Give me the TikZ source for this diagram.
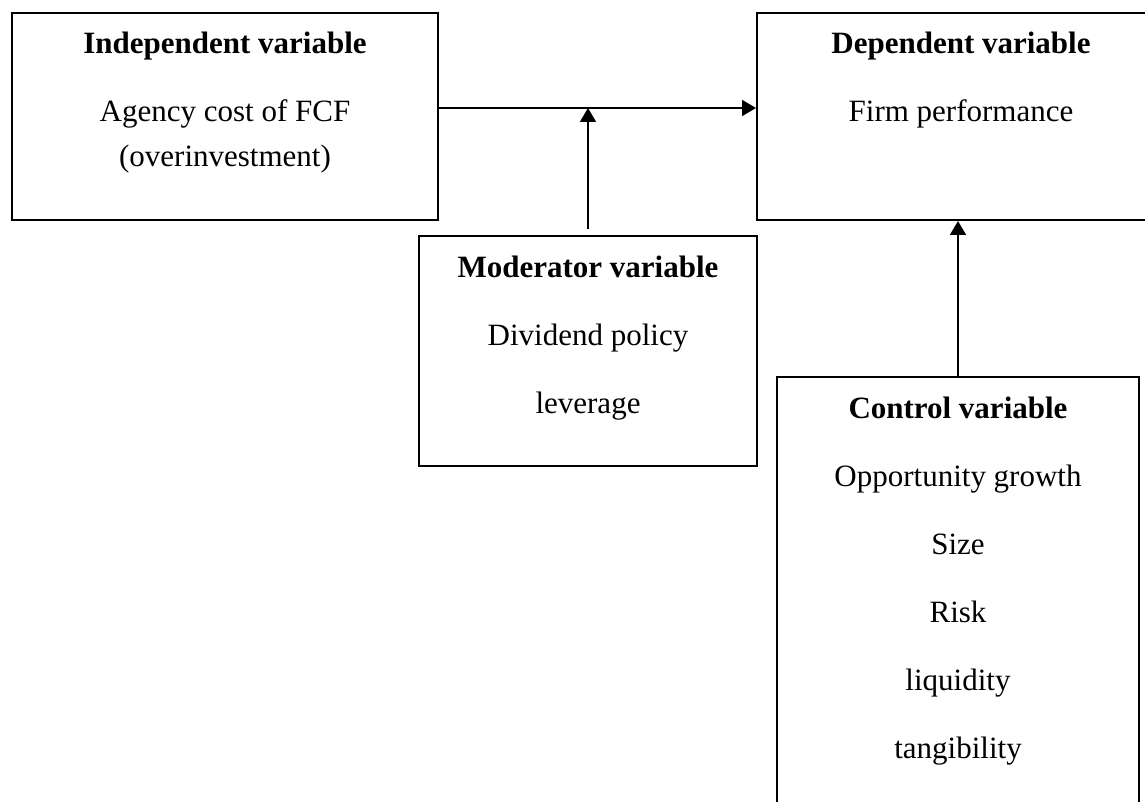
\documentclass[tikz,border=0pt]{standalone}
\usepackage{fontspec}
\setmainfont{Liberation Serif}
\usetikzlibrary{arrows.meta,positioning}

\tikzset{
  varbox/.style={draw, line width=1pt, inner sep=0pt},
  vartext/.style={anchor=north, align=center, inner sep=0pt,
    font=\fontsize{15.5}{34}\selectfont},
  arr/.style={line width=0.9pt, -{Triangle[length=7pt,width=8pt]}}
}

\begin{document}
\begin{tikzpicture}[x=0.5pt, y=-0.5pt]
  \clip (0,0) rectangle (1145,802);

  % the four boxes
  \node[varbox, minimum width=213pt, minimum height=103.5pt] (indep) at (225,116.5) {};
  \node[varbox, minimum width=204pt, minimum height=103.5pt] (dep) at (961,116.5) {};
  \node[varbox, minimum width=169pt, minimum height=115pt] (moder) at (588,351) {};
  \node[varbox, minimum width=181pt, minimum height=226.5pt] (ctrl) at (958,603.5) {};

  % texts
  \node[vartext] (indeptxt) at (225,32)
    {\textbf{Independent variable}\\ Agency cost of FCF\\[-11.5pt] (overinvestment)};
  \node[vartext] (deptxt) at (961,32)
    {\textbf{Dependent variable}\\ Firm performance};
  \node[vartext] (modertxt) at (588,256)
    {\textbf{Moderator variable}\\ Dividend policy\\ leverage};
  \node[vartext] (ctrltxt) at (958,397)
    {\textbf{Control variable}\\ Opportunity growth\\ Size\\ Risk\\ liquidity\\ tangibility};

  % connectors
  \coordinate (jn) at (588,108);
  \draw[arr] (indep.east |- jn) -- (dep.west |- jn);
  \draw[arr, shorten <=3pt] (moder.north) -- (jn);
  \draw[arr] (ctrl.north) -- (ctrl.north |- dep.south);
\end{tikzpicture}
\end{document}
